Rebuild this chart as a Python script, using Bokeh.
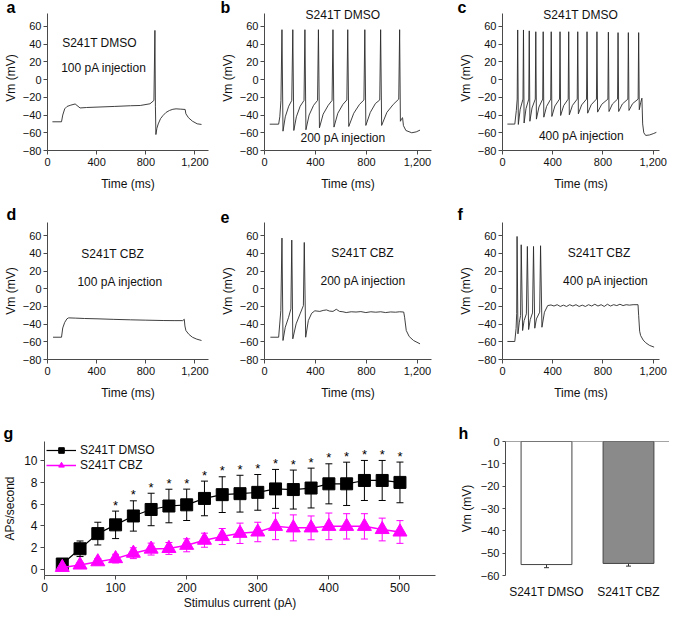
from bokeh.plotting import figure
from bokeh.layouts import row, column
from bokeh.models import (Range1d, FixedTicker, Label, ColumnDataSource, Whisker,
                          TeeHead, FactorRange, Span)
from bokeh.core.properties import value
from bokeh.embed import file_html
from bokeh.resources import INLINE

# ---------------- data ----------------
time_ticks = [0, 400, 800, 1200]
vm_ticks = [-80, -60, -40, -20, 0, 20, 40, 60]

# (time ms, Vm mV) vertices of each voltage trace
trace_a = [(40, -47.6), (114, -47.6), (124, -40), (140, -33), (159, -30.3), (190, -28.8),
           (225, -27.5), (265, -32), (318, -31.5), (411, -31), (543, -30.3), (675, -29.5),
           (755, -29.2), (834, -27.3), (866, -23.5), (874, 55.5), (878, -30), (882, -62),
           (890, -55), (901, -50), (920, -44), (940, -40.5), (965, -37), (993, -34.8),
           (1020, -33.5), (1046, -33), (1080, -33.3), (1120, -33.7), (1126, -38.6),
           (1147, -43), (1179, -46.9), (1218, -49.9), (1253, -50.6)]

trace_b = [(41, -50.3), (111, -50.3), (120, -42), (129, -23.5), (137, 56.3), (145, -58.2),
           (163, -42), (190, -30), (214, -23.5), (222, 56.3), (230, -57.4),
           (250, -42), (280, -30), (310, -23.5), (317, 56.3), (325, -56.6),
           (350, -40), (385, -29), (416, -23.5), (423, 56.3), (431, -54.4),
           (460, -39), (500, -29), (530, -23.5), (537, 56.3), (545, -53.6),
           (575, -38), (615, -28), (646, -23), (653, 56.3), (661, -52.9),
           (700, -38), (745, -28), (780, -23), (787, 56.3), (795, -51.7),
           (830, -37), (870, -27), (904, -23), (911, 56.3), (919, -51.7),
           (960, -37), (1010, -28), (1053, -22), (1060, 56.3), (1066, -47),
           (1076, -44), (1083, -43), (1090, -52), (1109, -57.4), (1155, -60),
           (1190, -59), (1220, -57)]

trace_c = [(39, -50.2), (98, -50.2), (110, -35), (117, -22), (121, 56), (126, -50.6),
           (141, -33.4), (163, -22), (167, 56), (172, -49), (187, -32.8), (209, -22),
           (213, 55), (218, -47), (235, -32), (261, -22), (265, 54), (270, -44.6),
           (290, -31), (320, -22), (324, 54), (329, -42.4), (351, -30.2), (384, -22),
           (388, 54), (393, -41.6), (417, -29.8), (454, -22), (458, 54), (463, -40.5),
           (487, -29.4), (523, -22), (527, 54), (532, -39.7), (557, -29.1), (595, -22),
           (599, 54), (604, -38.6), (630, -28.6), (669, -22), (673, 54), (678, -37.9),
           (706, -28.4), (748, -22), (752, 54), (757, -36.7), (790, -27.9), (839, -22),
           (843, 53.5), (848, -36), (875, -27.6), (916, -22), (920, 53), (925, -36),
           (954, -27.6), (998, -22), (1002, 53), (1007, -34.8), (1036, -27.1), (1080, -22),
           (1084, 53), (1089, -34), (1100, -26), (1110, -21), (1116, -50), (1125, -60),
           (1140, -63), (1170, -62.5), (1200, -61), (1225, -59.5)]

trace_d = [(45, -54.8), (114, -54.8), (124, -44.3), (140, -38), (158, -34), (172, -32.9),
           (230, -33.2), (300, -33.6), (411, -34), (540, -34.6), (676, -35.1), (800, -35.5),
           (941, -35.9), (1030, -36), (1100, -36), (1113, -34.5), (1118, -42), (1126, -47.2),
           (1150, -51.5), (1179, -54.8), (1215, -57), (1253, -58.5)]

trace_e = [(46, -54.8), (111, -54.8), (128, -24.6), (137, 57.4), (145, -58.5), (163, -43.5),
           (189, -32.2), (207, -22.7), (214, 55.1), (222, -56.6), (248, -39.7), (279, -28.4),
           (305, -19), (312, 52.4), (323, -54.8), (344, -35.9), (370, -27.7), (395, -24.9),
           (434, -25.6), (460, -24.5), (486, -23.9), (510, -25.2), (537, -25.6), (563, -23.2),
           (589, -25.6), (615, -26), (641, -26.9), (680, -26), (718, -26.3), (756, -25.8),
           (795, -26.9), (834, -26), (873, -26.5), (912, -26), (950, -26.9), (990, -26.2),
           (1028, -26.5), (1060, -26), (1092, -26.3), (1099, -32.2), (1112, -47.2),
           (1135, -54), (1169, -58.5), (1220, -62.3)]

trace_f = [(39, -59.6), (98, -59.6), (108, -45), (113, -28), (116, 59.2), (123, -51),
           (134, -37.8), (144, -30.3), (149, 49.8), (160, -47.2), (172, -36), (190, -28.4),
           (198, 47.9), (208, -46.1), (221, -34.8), (239, -27.3), (247, 47.9), (257, -44.6),
           (270, -34.1), (296, -26.5), (303, 48.7), (314, -43.5), (334, -26.5), (360, -19),
           (386, -18.3), (410, -19.5), (435, -18), (460, -20), (485, -18.5), (510, -20),
           (535, -18), (560, -19.5), (585, -18), (610, -20), (635, -18.5), (660, -20),
           (685, -18), (710, -19.5), (735, -17.5), (760, -19.5), (785, -18), (810, -20),
           (835, -17.5), (860, -19.5), (885, -18), (910, -19), (935, -17.5), (960, -19),
           (985, -18), (1010, -18.5), (1040, -18), (1079, -18), (1084, -30), (1092, -48),
           (1100, -53), (1120, -58), (1140, -61), (1170, -64), (1207, -66)]

# panel g: firing rate vs stimulus current
current_pA = [25, 50, 75, 100, 125, 150, 175, 200, 225, 250,
              275, 300, 325, 350, 375, 400, 425, 450, 475, 500]
dmso_aps = [0.46, 1.87, 3.27, 4.08, 4.9, 5.5, 5.82, 5.93, 6.52, 6.87,
            6.96, 7.08, 7.4, 7.34, 7.48, 7.87, 7.87, 8.18, 8.18, 8.0]
dmso_sem = [0.25, 0.72, 1.05, 1.27, 1.4, 1.5, 1.55, 1.45, 1.6, 1.65,
            1.7, 1.65, 1.8, 1.8, 1.84, 1.85, 2.0, 1.85, 1.85, 1.88]
cbz_aps = [0.15, 0.37, 0.67, 0.96, 1.46, 1.84, 1.9, 2.19, 2.66, 3.0,
           3.3, 3.42, 3.94, 3.8, 3.8, 3.94, 3.94, 3.94, 3.65, 3.42]
cbz_sem = [0.1, 0.2, 0.3, 0.4, 0.5, 0.55, 0.55, 0.6, 0.65, 0.74,
           0.94, 0.9, 1.23, 1.2, 1.1, 1.23, 1.17, 1.17, 1.05, 1.05]
signif_pA = [100, 125, 150, 175, 200, 225, 250, 275, 300, 325,
             350, 375, 400, 425, 450, 475, 500]
aps_ticks = [0, 2, 4, 6, 8, 10]
current_ticks = [0, 100, 200, 300, 400, 500]

# panel h: resting membrane potential
groups = ["S241T DMSO", "S241T CBZ"]
rest_vm = [-55.1, -54.6]
rest_sem = [1.4, 1.2]
rest_ticks = [0, -10, -20, -30, -40, -50, -60]

# ---------------- styling ----------------
FONT = "Liberation Sans"
AX = "#4a4a4a"
TXT = "#111111"


def fmt(v):
    return f"{v:,}".replace("-", "\u2212")


def style(p, tick_size="11px", label_size="12px"):
    for ax in p.axis:
        ax.axis_line_color = AX
        ax.major_tick_line_color = AX
        ax.minor_tick_line_color = None
        ax.major_tick_out = 4
        ax.major_tick_in = 0
        ax.major_label_text_font = FONT
        ax.major_label_text_font_size = tick_size
        ax.major_label_text_color = TXT
        ax.axis_label_text_font = FONT
        ax.axis_label_text_font_size = label_size
        ax.axis_label_text_font_style = "normal"
        ax.axis_label_text_color = TXT
    p.xgrid.grid_line_color = None
    p.ygrid.grid_line_color = None
    p.outline_line_color = None
    p.background_fill_color = "white"
    p.border_fill_color = "white"


def title_letter(p, txt, dx, standoff=0):
    p.title.text = txt
    p.title.align = "left"
    p.title.offset = dx
    try:
        p.title.standoff = standoff
    except Exception:
        p.title.standoff = 0
    p.title.text_font = FONT
    p.title.text_font_size = "16px"
    p.title.text_font_style = "bold"
    p.title.text_color = "black"


def trace_panel(trace, notes, x_end, y_top, width, height, left, right, top, bottom):
    t = [q[0] for q in trace]
    v = [q[1] for q in trace]
    p = figure(width=width, height=height, x_range=Range1d(0, x_end), y_range=Range1d(-80, y_top),
               output_backend="svg", toolbar_location=None,
               min_border_left=left, min_border_right=right,
               min_border_top=top, min_border_bottom=bottom)
    p.line(t, v, line_color="#2a2a2a", line_width=0.9)
    style(p)
    p.xaxis.ticker = FixedTicker(ticks=time_ticks)
    p.xaxis.major_label_overrides = {k: fmt(k) for k in time_ticks}
    p.yaxis.ticker = FixedTicker(ticks=vm_ticks)
    p.yaxis.major_label_overrides = {k: fmt(k) for k in vm_ticks}
    p.yaxis.bounds = (-80, 75)
    p.xaxis.axis_label = "Time (ms)"
    p.yaxis.axis_label = "Vm (mV)"
    p.xaxis.major_label_standoff = 3
    p.xaxis.axis_label_standoff = 8
    p.yaxis.major_label_standoff = 2
    p.yaxis.axis_label_standoff = 2
    for txt, x, y, align in notes:
        p.add_layout(Label(x=x, y=y, text=txt, text_font=FONT, text_font_size="12px",
                           text_align=align, text_baseline="middle", text_color=TXT))
    return p


# row 1: frame top 5 px below the canvas top, axis line bounded at 75 mV
Y1 = 83.6
pa = trace_panel(trace_a, [("S241T DMSO", 119, 40.8, "left"), ("100 pA injection", 111, 12.6, "left")],
                 1310, Y1, 215, 201, 41, 7, 5, 51)
pb = trace_panel(trace_b, [("S241T DMSO", 615, 72.4, "center"), ("200 pA injection", 617, -66.4, "center")],
                 1310, Y1, 240, 201, 49, 24, 5, 51)
pc = trace_panel(trace_c, [("S241T DMSO", 622, 72.4, "center"), ("400 pA injection", 630, -64, "center")],
                 1250, Y1, 214, 201, 45, 10, 5, 51)
title_letter(pa, "a", -41, -20)
title_letter(pb, "b", -44, -20)
title_letter(pc, "c", -45, -20)

pd = trace_panel(trace_d, [("S241T CBZ", 530, 39.3, "center"), ("100 pA injection", 591, 8, "center")],
                 1310, 75, 215, 209, 41, 7, 21, 51)
pe = trace_panel(trace_e, [("S241T CBZ", 769, 40, "center"), ("200 pA injection", 774, 8.6, "center")],
                 1310, 75, 240, 209, 49, 24, 21, 51)
pf = trace_panel(trace_f, [("S241T CBZ", 770, 40, "center"), ("400 pA injection", 822, 8.6, "center")],
                 1250, 75, 214, 209, 45, 10, 21, 51)
title_letter(pd, "d", -41)
title_letter(pe, "e", -44)
title_letter(pf, "f", -45)

# ---------------- panel g ----------------
MAG = "#ff00ff"
pg = figure(width=456, height=202, x_range=Range1d(0, 550), y_range=Range1d(-0.6, 11.78),
            output_backend="svg", toolbar_location=None,
            min_border_left=41, min_border_right=21, min_border_top=30, min_border_bottom=31)
src_d = ColumnDataSource(dict(x=current_pA, y=dmso_aps,
                              up=[m + s for m, s in zip(dmso_aps, dmso_sem)],
                              lo=[m - s for m, s in zip(dmso_aps, dmso_sem)]))
src_c = ColumnDataSource(dict(x=current_pA, y=cbz_aps,
                              up=[m + s for m, s in zip(cbz_aps, cbz_sem)],
                              lo=[m - s for m, s in zip(cbz_aps, cbz_sem)]))
for src, col in ((src_d, "black"), (src_c, MAG)):
    w = Whisker(source=src, base="x", upper="up", lower="lo", line_color=col, line_width=1,
                upper_head=TeeHead(size=7, line_color=col, line_width=1),
                lower_head=TeeHead(size=7, line_color=col, line_width=1), level="underlay")
    pg.add_layout(w)
pg.line("x", "y", source=src_d, line_color="black", line_width=1.2, legend_label="S241T DMSO")
pg.scatter("x", "y", source=src_d, marker="square", size=12, fill_color="black",
           line_color="black", legend_label="S241T DMSO")
pg.line("x", "y", source=src_c, line_color=MAG, line_width=1.5, legend_label="S241T CBZ")
pg.scatter("x", "y", source=src_c, marker="triangle", size=14, fill_color=MAG,
           line_color=MAG, legend_label="S241T CBZ")
sig_top = [u for x, u in zip(current_pA, src_d.data["up"]) if x in signif_pA]
pg.text(x=signif_pA, y=sig_top, text=["*"] * len(signif_pA), text_font=value(FONT),
        text_font_size="13px", text_align="center", text_baseline="alphabetic",
        text_color="black", y_offset=-6)
style(pg, tick_size="12px", label_size="12px")
pg.xaxis.ticker = FixedTicker(ticks=current_ticks)
pg.yaxis.ticker = FixedTicker(ticks=aps_ticks)
pg.xaxis.axis_label = "Stimulus current (pA)"
pg.yaxis.axis_label = "APs/second"
pg.xaxis.major_label_standoff = 3
pg.xaxis.axis_label_standoff = 1
pg.yaxis.major_label_standoff = 3
pg.yaxis.axis_label_standoff = 4
pg.legend.location = "top_left"
pg.legend.margin = 0
pg.legend.padding = 2
pg.legend.spacing = 1
pg.legend.glyph_height = 14
pg.legend.label_height = 14
pg.legend.glyph_width = 30
pg.legend.label_standoff = 4
pg.legend.label_text_font = FONT
pg.legend.label_text_font_size = "12px"
pg.legend.label_text_color = TXT
pg.legend.background_fill_alpha = 0
pg.legend.border_line_alpha = 0
title_letter(pg, "g", -41)

# ---------------- panel h ----------------
ph = figure(width=213, height=202, x_range=FactorRange(*groups, range_padding=0),
            y_range=Range1d(-60, 0), output_backend="svg", toolbar_location=None,
            min_border_left=48, min_border_right=0, min_border_top=31, min_border_bottom=34)
src_h = ColumnDataSource(dict(g=groups, vm=rest_vm,
                              up=[m + s for m, s in zip(rest_vm, rest_sem)],
                              lo=[m - s for m, s in zip(rest_vm, rest_sem)],
                              fill=["white", "#8a8a8a"]))
ph.vbar(x="g", top=0, bottom="vm", width=0.62, source=src_h, fill_color="fill",
        line_color="#444444", line_width=1)
ph.add_layout(Whisker(source=src_h, base="g", upper="up", lower="lo", line_color="#333333",
                      upper_head=TeeHead(size=5, line_color="#333333"),
                      lower_head=TeeHead(size=5, line_color="#333333")))
ph.add_layout(Span(location=0, dimension="width", line_color=AX, line_width=1))
style(ph, tick_size="11px", label_size="12px")
ph.yaxis.ticker = FixedTicker(ticks=rest_ticks)
ph.yaxis.major_label_overrides = {k: fmt(k) for k in rest_ticks}
ph.yaxis.axis_label = "Vm (mV)"
ph.yaxis.major_tick_out = 3
ph.yaxis.major_label_standoff = 3
ph.yaxis.axis_label_standoff = 4
ph.xaxis.axis_line_color = None
ph.xaxis.major_tick_line_color = None
ph.xaxis.major_tick_out = 0
ph.xaxis.major_label_standoff = 9
ph.xaxis.major_label_text_font_size = "12px"
title_letter(ph, "h", -47)

layout = column(row(pa, pb, pc, spacing=0), row(pd, pe, pf, spacing=0),
                row(pg, ph, spacing=0), spacing=0)
open("out.html", "w").write(file_html(layout, INLINE))
